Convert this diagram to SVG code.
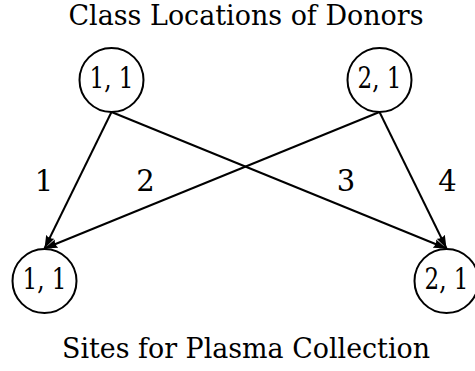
<svg xmlns="http://www.w3.org/2000/svg" width="475" height="371" viewBox="0 0 475 371">
<style>
  .title { font-family: 'DejaVu Serif', serif; font-size: 27px; text-anchor: middle; fill: #000; }
  .lbl { font-family: 'DejaVu Serif', serif; font-size: 29px; text-anchor: middle; fill: #000; }
  .node circle { fill: #fff; stroke: #000; stroke-width: 2; }
  .edge { stroke: #000; stroke-width: 2; fill: none; marker-end: url(#arr); }
</style>
<defs>
  <marker id="arr" markerUnits="userSpaceOnUse" markerWidth="16" markerHeight="12" refX="13" refY="6" orient="auto">
    <path d="M0,1.5 L13,6 L0,10.5 Q2.5,6 0,1.5 Z" fill="#000"/>
  </marker>
</defs>
<rect width="475" height="371" fill="#fff"/>
<text class="title" x="246" y="25" textLength="355" lengthAdjust="spacingAndGlyphs">Class Locations of Donors</text>
<text class="title" x="246" y="358" textLength="368" lengthAdjust="spacingAndGlyphs">Sites for Plasma Collection</text>
<g id="edges">
  <line class="edge" x1="111.5" y1="112" x2="44.5" y2="248.5"/>
  <line class="edge" x1="111.5" y1="112" x2="446.5" y2="248.5"/>
  <line class="edge" x1="379.5" y1="112" x2="44.5" y2="248.5"/>
  <line class="edge" x1="379.5" y1="112" x2="446.5" y2="248.5"/>
  <text class="lbl" x="44" y="191">1</text>
  <text class="lbl" x="145.5" y="191">2</text>
  <text class="lbl" x="346" y="191">3</text>
  <text class="lbl" x="447.5" y="191">4</text>
</g>
<g id="n_top_1" class="node">
  <circle cx="111.5" cy="80" r="32"/>
  <text class="lbl" x="111.5" y="88" textLength="44" lengthAdjust="spacingAndGlyphs">1, 1</text>
</g>
<g id="n_top_2" class="node">
  <circle cx="379.5" cy="80" r="32"/>
  <text class="lbl" x="379.5" y="88" textLength="44" lengthAdjust="spacingAndGlyphs">2, 1</text>
</g>
<g id="n_bot_1" class="node">
  <circle cx="44.5" cy="281" r="32"/>
  <text class="lbl" x="44.5" y="289" textLength="44" lengthAdjust="spacingAndGlyphs">1, 1</text>
</g>
<g id="n_bot_2" class="node">
  <circle cx="446.5" cy="281" r="32"/>
  <text class="lbl" x="446.5" y="289" textLength="44" lengthAdjust="spacingAndGlyphs">2, 1</text>
</g>
</svg>
